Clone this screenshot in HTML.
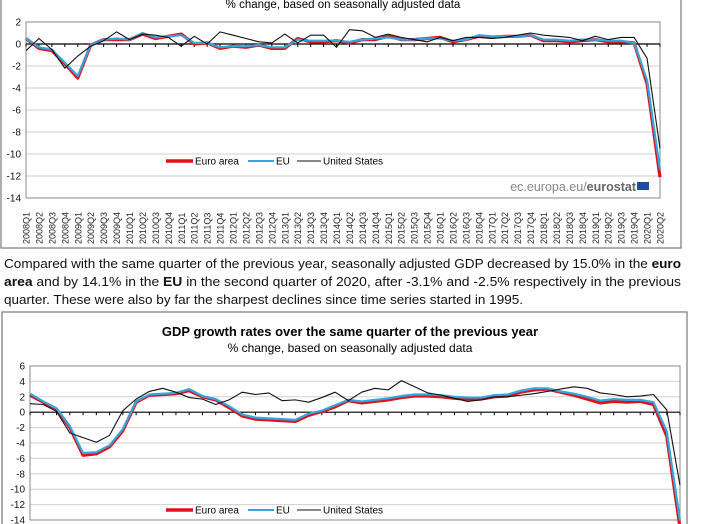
<!DOCTYPE html>
<html><head><meta charset="utf-8"><style>
body{margin:0;width:724px;height:524px;overflow:hidden;background:#fff;font-family:"Liberation Sans",Arial,sans-serif;position:relative}
svg{position:absolute;left:0;top:0}
</style></head><body>
<svg id="chart" width="724" height="524">
<g font-size="13" fill="#111">
<text x="4" y="268" textLength="677" lengthAdjust="spacingAndGlyphs">Compared with the same quarter of the previous year, seasonally adjusted GDP decreased by 15.0% in the <tspan font-weight="bold">euro</tspan></text>
<text x="4" y="286" textLength="677" lengthAdjust="spacingAndGlyphs"><tspan font-weight="bold">area</tspan> and by 14.1% in the <tspan font-weight="bold">EU</tspan> in the second quarter of 2020, after -3.1% and -2.5% respectively in the previous</text>
<text x="4" y="304" textLength="519" lengthAdjust="spacingAndGlyphs">quarter. These were also by far the sharpest declines since time series started in 1995.</text>
</g>
</svg>
<script>
const quarters=[];for(let y=2008;y<=2020;y++)for(let q=1;q<=4;q++){if(y===2020&&q>2)break;quarters.push(y+'Q'+q);}
const qoqEuro=[0.5,-0.4,-0.6,-1.8,-3.1,-0.1,0.4,0.4,0.4,0.9,0.5,0.7,0.9,0.0,0.1,-0.4,-0.2,-0.3,-0.1,-0.4,-0.4,0.5,0.2,0.2,0.3,0.1,0.4,0.4,0.7,0.4,0.4,0.5,0.6,0.2,0.4,0.7,0.6,0.7,0.7,0.8,0.3,0.3,0.2,0.3,0.4,0.2,0.2,0.1,-3.6,-12.1];
const qoqEU=[0.5,-0.3,-0.5,-1.7,-2.9,-0.1,0.4,0.5,0.4,1.0,0.6,0.7,0.8,0.1,0.1,-0.3,-0.2,-0.2,-0.1,-0.3,-0.3,0.4,0.3,0.3,0.3,0.2,0.4,0.5,0.6,0.4,0.4,0.5,0.5,0.3,0.4,0.8,0.7,0.7,0.7,0.8,0.4,0.4,0.3,0.4,0.4,0.3,0.3,0.1,-3.3,-11.4];
const qoqUS=[-0.6,0.5,-0.5,-2.2,-1.1,-0.2,0.3,1.1,0.4,0.9,0.8,0.6,-0.2,0.7,0.0,1.1,0.8,0.5,0.2,0.1,0.9,0.1,0.8,0.8,-0.3,1.3,1.2,0.6,0.9,0.6,0.4,0.2,0.6,0.3,0.6,0.6,0.5,0.6,0.8,1.0,0.8,0.7,0.6,0.3,0.7,0.4,0.6,0.6,-1.3,-9.5];
const yoyEuro=[2.2,1.3,0.4,-2.0,-5.6,-5.4,-4.5,-2.4,1.3,2.2,2.3,2.4,2.8,2.0,1.6,0.6,-0.5,-0.9,-1.0,-1.1,-1.2,-0.4,0.1,0.7,1.5,1.2,1.4,1.6,1.9,2.1,2.1,2.0,1.8,1.7,1.7,2.0,2.1,2.6,2.9,3.0,2.6,2.2,1.7,1.2,1.4,1.3,1.4,1.0,-3.1,-15.0];
const yoyEU=[2.4,1.4,0.5,-1.8,-5.3,-5.2,-4.3,-2.2,1.4,2.3,2.4,2.5,3.0,2.1,1.7,0.8,-0.3,-0.7,-0.8,-0.9,-1.0,-0.2,0.2,0.9,1.6,1.4,1.6,1.8,2.1,2.3,2.3,2.2,2.0,1.9,1.9,2.2,2.3,2.8,3.1,3.1,2.7,2.4,2.0,1.5,1.7,1.6,1.6,1.3,-2.5,-14.1];
const yoyUS=[1.1,1.0,0.1,-2.7,-3.3,-3.9,-3.0,0.2,1.7,2.7,3.1,2.6,1.9,1.7,1.0,1.6,2.6,2.3,2.5,1.5,1.6,1.3,1.9,2.6,1.5,2.6,3.1,2.9,4.1,3.3,2.5,2.2,1.8,1.4,1.6,2.0,2.0,2.2,2.4,2.7,3.0,3.3,3.1,2.5,2.3,2.0,2.1,2.3,0.3,-9.5];
const ticksTop=[2,0,-2,-4,-6,-8,-10,-12,-14];
const ticksBottom=[6,4,2,0,-2,-4,-6,-8,-10,-12,-14];
const NS='http://www.w3.org/2000/svg';const svg=document.getElementById('chart');
function mk(tag,at,parent){const e=document.createElementNS(NS,tag);for(const k in at)e.setAttribute(k,at[k]);(parent||svg).appendChild(e);return e;}
function txt(s,at,parent){const e=mk('text',at,parent);e.textContent=s;return e;}
function chart(cfg){
 const g=mk('g',{});
 
 
 const f=mk('rect',{x:cfg.fx,y:cfg.fy,width:cfg.fw,height:cfg.fh,fill:'#fff',stroke:'#777','stroke-width':1.2},g);
 
 
 const ymax=cfg.ticks[0],ymin=cfg.ticks[cfg.ticks.length-1];
 const Y=v=>cfg.top+(ymax-v)/(ymax-ymin)*(cfg.bottom-cfg.top);
 const X=i=>cfg.left+i*(cfg.right-cfg.left)/(quarters.length-1);
 cfg.ticks.forEach(t=>{
  if(t!==ymin&&t!==ymax&&t!==0)mk('line',{x1:cfg.left,x2:cfg.right,y1:Y(t),y2:Y(t),stroke:'#d0d0d0','stroke-width':1},g);
  const l=txt(String(t),{x:cfg.left-5,y:Y(t)+3.5,'text-anchor':'end','font-size':10,fill:'#111'},g);
  
  
 });
 mk('rect',{x:cfg.left,y:cfg.top,width:cfg.right-cfg.left,height:cfg.bottom-cfg.top,fill:'none',stroke:'#888','stroke-width':1},g);
 mk('line',{x1:cfg.left,x2:cfg.right,y1:Y(0),y2:Y(0),stroke:'#000','stroke-width':1.2},g);
 quarters.forEach((q,i)=>{mk('line',{x1:X(i),x2:X(i),y1:Y(0),y2:Y(0)+3,stroke:'#000','stroke-width':1},g);
  if(cfg.labels){const l=txt(q,{transform:`translate(${X(i)+3.5},${cfg.labelY}) rotate(-90)`,'font-size':9,fill:'#222'},g);
  
  }});
 const series=[[cfg.s[0],'#e3101a',3.2,'euro-area-line'],[cfg.s[1],'#2fa8df',2.2,'eu-line'],[cfg.s[2],'#111',1.1,'us-line']];
 series.forEach(([d,c,w,n])=>{const p=mk('polyline',{points:d.map((v,i)=>X(i)+','+Y(v)).join(' '),fill:'none',stroke:c,'stroke-width':w,'stroke-linejoin':'round'},g);
  
  });
 const lg=mk('g',{},g);
 
 
 const ly=cfg.legendY;
 mk('line',{x1:166,x2:193,y1:ly,y2:ly,stroke:'#e3101a','stroke-width':3.5},lg);txt('Euro area',{x:195,y:ly+3.5,'font-size':10},lg);
 mk('line',{x1:248,x2:274,y1:ly,y2:ly,stroke:'#2fa8df','stroke-width':2},lg);txt('EU',{x:276,y:ly+3.5,'font-size':10},lg);
 mk('line',{x1:297,x2:321,y1:ly,y2:ly,stroke:'#111','stroke-width':1},lg);txt('United States',{x:323,y:ly+3.5,'font-size':10},lg);
 return g;
}
chart({name:'qoq-chart',fx:1,fy:-5,fw:680,fh:253,left:26,right:660,top:22,bottom:198,ticks:ticksTop,s:[qoqEuro,qoqEU,qoqUS],labels:true,labelY:244,legendY:161});
const st=txt('% change, based on seasonally adjusted data',{x:343,y:8,'text-anchor':'middle','font-size':11.5});


const es=mk('text',{x:636,y:191,'text-anchor':'end','font-size':12.5,fill:'#888'});


es.innerHTML='ec.europa.eu/<tspan font-weight="bold" fill="#666">eurostat</tspan>';
mk('rect',{x:637,y:182,width:12,height:8,fill:'#1f4e9c'});
chart({name:'yoy-chart',fx:2,fy:312,fw:685,fh:230,left:30,right:680,top:366,bottom:520,ticks:ticksBottom,s:[yoyEuro,yoyEU,yoyUS],labels:false,legendY:510});
const t2=txt('GDP growth rates over the same quarter of the previous year',{x:350,y:336,'text-anchor':'middle','font-size':13,'font-weight':'bold'});


const s2=txt('% change, based on seasonally adjusted data',{x:350,y:352,'text-anchor':'middle','font-size':12});


</script>
</body></html>
